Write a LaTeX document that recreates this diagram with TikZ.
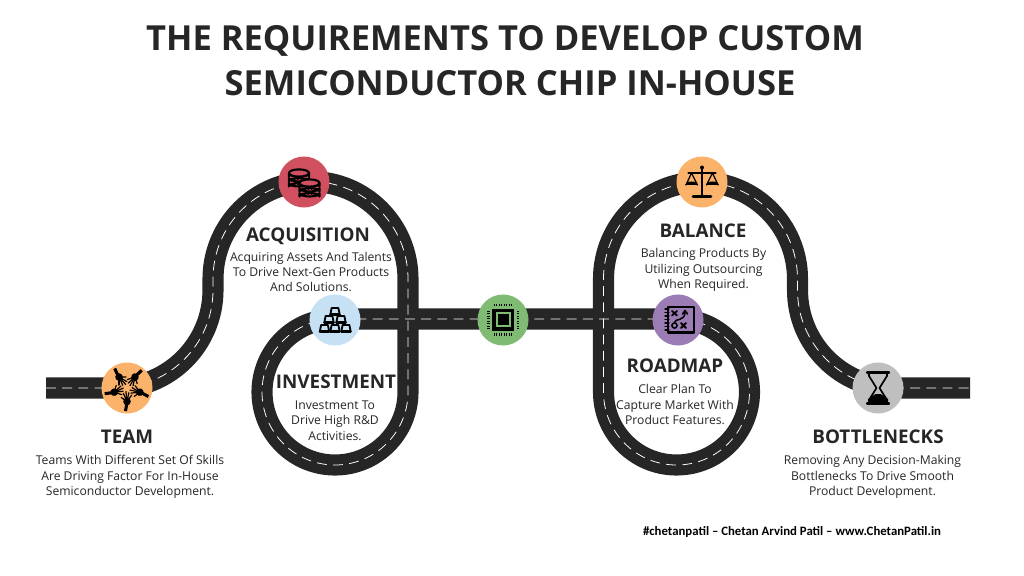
\documentclass[tikz,border=0pt]{standalone}
\usepackage{fontspec}
\setmainfont{Open Sans}
\newfontfamily\footfont{Carlito}
\definecolor{roadblack}{HTML}{262626}
\definecolor{dotorange}{HTML}{FBB26A}
\definecolor{dotred}{HTML}{D1505F}
\definecolor{dotblue}{HTML}{C6E0F4}
\definecolor{dotgreen}{HTML}{7FBB73}
\definecolor{dotpurple}{HTML}{9B7CB4}
\definecolor{dotgray}{HTML}{BFBFBF}
\tikzset{
    road/.style={preaction={draw,roadblack,line width=15pt,dash pattern=},white,line width=0.55pt,dash pattern=on 7pt off 4.5pt},
    dot/.style={circle,minimum size=1.275cm,inner sep=0pt,fill=#1},
    titletxt/.style={font=\fontsize{24.55}{29.9}\selectfont\bfseries,text=roadblack,align=center,inner sep=0pt},
    headtxt/.style={font=\fontsize{13.4}{16}\selectfont\bfseries,text=roadblack,inner sep=0pt},
    bodytxt/.style={font=\fontsize{8.65}{10.9}\selectfont,text=roadblack,align=center,inner sep=0pt},
    ink/.style={black,line width=1.1pt,line cap=round,line join=round},
    pics/handicon/.style={code={
        \draw[ink,line width=2.2pt,line cap=butt] (23,1.5) -- (15,0);
        \fill[black] (13.5,0) circle (3.8);
        \foreach \f/\l in {-55/7,-24/9,-6/10,12/9,36/8}
            \draw[ink,line width=0.85pt] (13.5,0) -- ++(180+\f:\l);
    }},
    pics/coinstack/.style={code={
        \foreach \y in {10,5,0}{
            \draw[ink,line width=1.5pt,fill=dotred] (-10,\y) -- (-10,\y+3.5) arc[start angle=180,end angle=360,x radius=10,y radius=3.5] -- (10,\y) arc[start angle=0,end angle=180,x radius=10,y radius=3.5] -- cycle;
            \draw[black,line width=0.7pt,dash pattern=on 1pt off 1.3pt] (-8,\y+3.2) arc[start angle=160,end angle=20,x radius=8.5,y radius=-3];
        }
        \draw[ink,line width=1.5pt,fill=dotred] (0,0) ellipse (10 and 3.6);
    }},
    pics/goldbar/.style={code={
        \draw[ink,line width=1.3pt,fill=dotblue] (-4.6,3.2) -- (-3.4,-3) -- (3.4,-3) -- (4.6,3.2) -- cycle;
        \draw[ink,line width=1.8pt] (-4.6,3.4) -- (4.6,3.4);
    }}
}
\begin{document}
\begin{tikzpicture}[x=0.025cm,y=-0.025cm]
    \useasboundingbox (0,0) rectangle (1024,576);
    % points on the road
    \coordinate (roadin) at (46,388);
    \coordinate (teamturn) at (115,388);
    \coordinate (acqleft) at (213,279);
    \coordinate (acqright) at (408,392);
    \coordinate (midleft) at (335,319);
    \coordinate (midright) at (676.5,319);
    \coordinate (balleft) at (603.5,279);
    \coordinate (balright) at (797.5,290);
    \coordinate (roadout) at (970,388);
    \draw[road] (roadin) -- (teamturn) arc[start angle=90,end angle=0,radius=98] -- (acqleft)
        arc[start angle=180,end angle=360,radius=97.5] -- (acqright)
        arc[start angle=0,end angle=270,radius=73] -- (midright)
        arc[start angle=270,end angle=540,radius=73] -- (balleft)
        arc[start angle=180,end angle=360,radius=97] -- (balright)
        arc[start angle=180,end angle=90,radius=98] -- (roadout);
    % stops
    \node[dot=dotorange] (teamdot) at (127,388) {};
    \node[dot=dotred] (acqdot) at (304,182) {};
    \node[dot=dotblue] (invdot) at (335,320) {};
    \node[dot=dotgreen] (chipdot) at (503,320) {};
    \node[dot=dotpurple] (mapdot) at (678,320) {};
    \node[dot=dotorange] (baldot) at (702,182) {};
    \node[dot=dotgray] (botdot) at (878,388) {};
    % hands
    \foreach \a in {54,126,198,270,342}
        \pic[rotate=\a] at (teamdot) {handicon};
    % coins
    \pic at (299,173) {coinstack};
    \pic at (309.5,183) {coinstack};
    % gold bars
    \foreach \bx/\by in {335/311,329/319,341/319,324.5/328,335/328,346/328}
        \pic at (\bx,\by) {goldbar};
    % chip
    \begin{scope}[shift={(chipdot)}]
        \fill[black] (-11,-11) rectangle (11,11);
        \fill[dotgreen] (-7.5,-7.5) rectangle (7.5,7.5);
        \fill[black] (-5.5,-5.5) rectangle (5.5,5.5);
        \foreach \p in {-8.75,-6.25,-3.75,-1.25,1.25,3.75,6.25,8.75}{
            \fill[black] (\p-0.7,-16) rectangle (\p+0.7,-13.5);
            \fill[black] (\p-0.7,13.5) rectangle (\p+0.7,16);
            \fill[black] (-16,\p-0.7) rectangle (-13.5,\p+0.7);
            \fill[black] (13.5,\p-0.7) rectangle (16,\p+0.7);
        }
    \end{scope}
    % map
    \begin{scope}[shift={(mapdot)}]
        \draw[ink,line width=1.5pt] (-10,-13) rectangle (16,12.5);
        \foreach \p in {-11,-7.5,-4,-0.5,3,6.5,10}
            \draw[ink,line width=0.8pt] (-13,\p) -- (-9,\p);
        \draw[ink,line width=1.3pt] (-6,-9) -- (-1,-4.5) (-6,-4.5) -- (-1,-9);
        \draw[ink,line width=1.3pt] (3,3) -- (8,8) (3,8) -- (8,3);
        \draw[ink] (-3.5,5.5) circle (2.6);
        \draw[ink] (-3.5,2.5) .. controls (-3.5,-2) and (7,2) .. (7,-8);
        \draw[ink] (4.5,-6) -- (7,-9.5) -- (9.5,-6);
    \end{scope}
    % scale
    \begin{scope}[shift={(baldot)}]
        \draw[ink,line width=1.8pt] (0,-13.5) -- (0,13);
        \draw[ink,line width=2pt] (-9,14.5) -- (9,14.5);
        \draw[ink,line width=1.6pt] (-13.5,-9) -- (13.5,-9);
        \fill[black] (0,-14.5) circle (2);
        \draw[ink,line width=0.9pt] (-10.5,-9) -- (-16,3) (-10.5,-9) -- (-4.5,3);
        \draw[ink,line width=0.9pt] (10.5,-9) -- (16,3) (10.5,-9) -- (4.5,3);
        \fill[black] (-17,3) arc[start angle=180,end angle=0,x radius=6.5,y radius=-3.5] -- cycle;
        \fill[black] (4,3) arc[start angle=180,end angle=0,x radius=6.5,y radius=-3.5] -- cycle;
    \end{scope}
    % hourglass
    \begin{scope}[shift={(botdot)}]
        \draw[ink,line width=1.6pt] (-11,-15.5) -- (11,-15.5) (-11,15.5) -- (11,15.5);
        \draw[ink,line width=1.2pt] (-9,-15) -- (-9,-12) -- (-1.5,0) -- (-9,12) -- (-9,15)
            (9,-15) -- (9,-12) -- (1.5,0) -- (9,12) -- (9,15);
        \fill[black] (-10,15.5) -- (-10,11) -- (-2.5,6) -- (2.5,6) -- (10,11) -- (10,15.5) -- cycle;
    \end{scope}
    % texts
    \node[titletxt] (titleone) at (505,41) {THE REQUIREMENTS TO DEVELOP CUSTOM};
    \node[titletxt] (titletwo) at (510,83) {SEMICONDUCTOR CHIP IN-HOUSE};
    \node[headtxt] (teamhead) at (127,437) {TEAM};
    \node[bodytxt] (teambody) at (130,477) {Teams With Different Set Of Skills\\Are Driving Factor For In-House\\Semiconductor Development.};
    \node[headtxt] (acqhead) at (308,236) {ACQUISITION};
    \node[bodytxt] (acqbody) at (311,272) {Acquiring Assets And Talents\\To Drive Next-Gen Products\\And Solutions.};
    \node[headtxt] (invhead) at (336,382) {INVESTMENT};
    \node[bodytxt] (invbody) at (335,420.5) {Investment To\\Drive High R\&D\\Activities.};
    \node[headtxt] (balhead) at (703,231) {BALANCE};
    \node[bodytxt] (balbody) at (703.5,270) {Balancing Products By\\Utilizing Outsourcing\\When Required.};
    \node[headtxt] (maphead) at (675,366) {ROADMAP};
    \node[bodytxt] (mapbody) at (675,404.5) {Clear Plan To\\Capture Market With\\Product Features.};
    \node[headtxt] (bothead) at (878,437) {BOTTLENECKS};
    \node[bodytxt] (botbody) at (872.5,477) {Removing Any Decision-Making\\Bottlenecks To Drive Smooth\\Product Development.};
    \node[inner sep=0pt,text=black,font=\footfont\fontsize{9.1}{11}\selectfont\bfseries] (credit) at (792,532) {\#chetanpatil – Chetan Arvind Patil – www.ChetanPatil.in};
\end{tikzpicture}
\end{document}
